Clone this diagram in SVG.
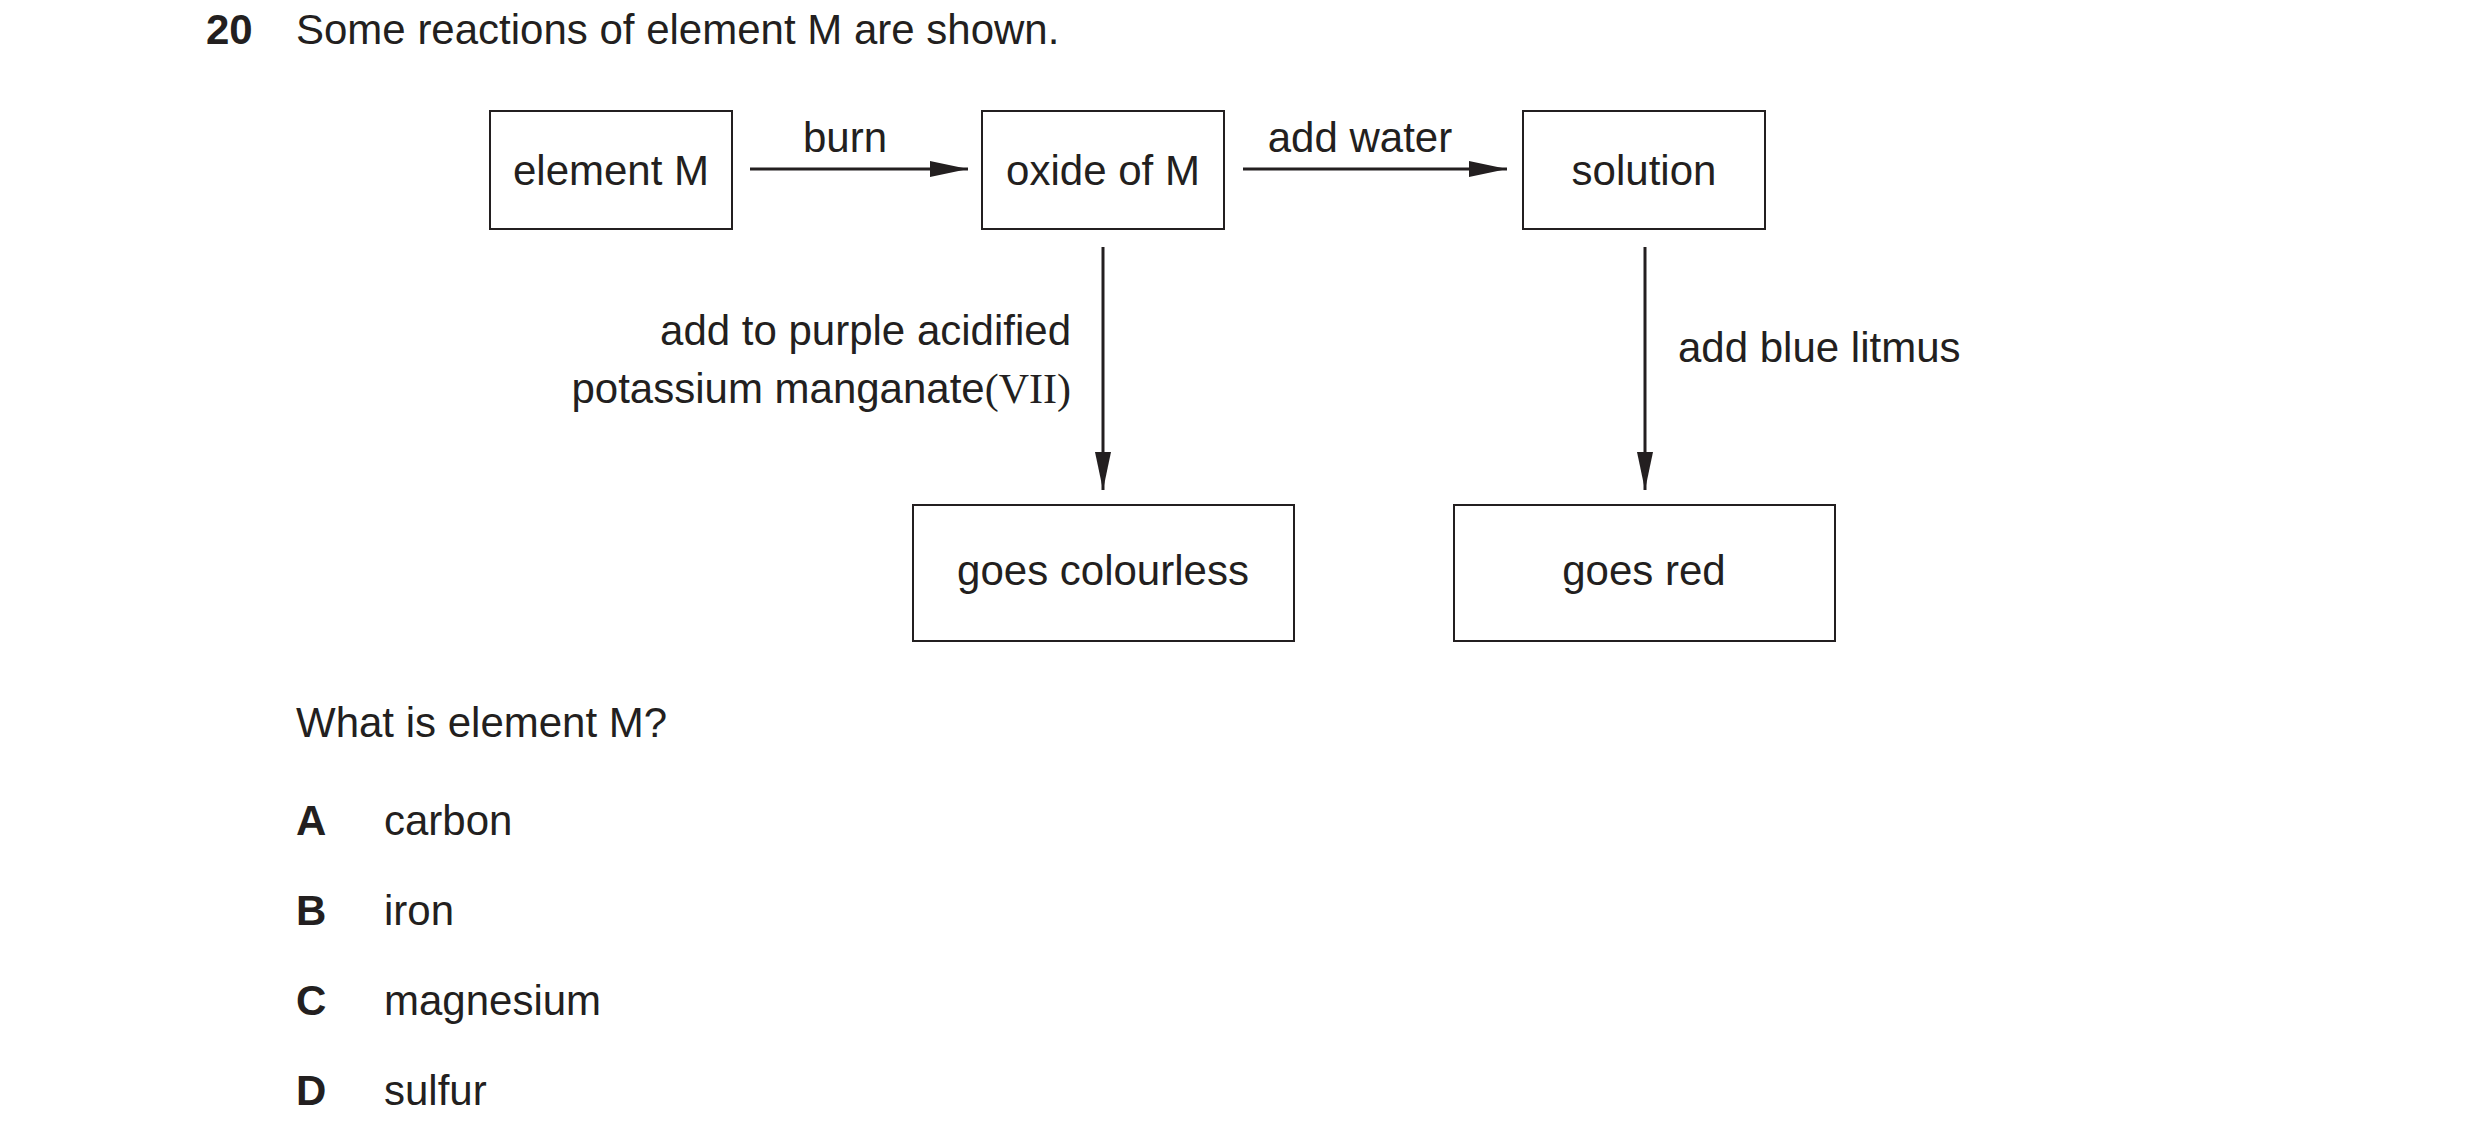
<svg xmlns="http://www.w3.org/2000/svg" width="2480" height="1147" viewBox="0 0 2480 1147">
<style>
text{font-family:"Liberation Sans",Arial,sans-serif;font-size:42px;fill:#231f20}
.c{text-anchor:middle}.b{font-weight:bold}
.box{fill:none;stroke:#231f20;stroke-width:2}
.ln{stroke:#231f20;stroke-width:3;fill:none}
</style>
<defs><marker id="ah" markerWidth="12" markerHeight="8" refX="12" refY="4" orient="auto" markerUnits="userSpaceOnUse"><path d="M0,0 L0,0 L12,4 L0,8z" fill="#231f20" transform="scale(1)"/></marker>
<marker id="a2" viewBox="0 0 38 16" markerWidth="38" markerHeight="16" refX="38" refY="8" orient="auto" markerUnits="userSpaceOnUse"><path d="M0,0 L38,8 L0,16z" fill="#231f20"/></marker></defs>
<rect width="2480" height="1147" fill="#fff"/>
<text x="206" y="44" class="b">20</text>
<text x="296" y="44">Some reactions of element M are shown.</text>
<g id="elementM"><rect class="box" x="490" y="111" width="242" height="118"/><text class="c" x="611" y="185">element M</text></g>
<g id="oxide"><rect class="box" x="982" y="111" width="242" height="118"/><text class="c" x="1103" y="185">oxide of M</text></g>
<g id="solution"><rect class="box" x="1523" y="111" width="242" height="118"/><text class="c" x="1644" y="185">solution</text></g>
<g id="colourless"><rect class="box" x="913" y="505" width="381" height="136"/><text class="c" x="1103" y="585">goes colourless</text></g>
<g id="red"><rect class="box" x="1454" y="505" width="381" height="136"/><text class="c" x="1644" y="585">goes red</text></g>
<g id="connectors">
<line class="ln" x1="750" y1="169" x2="968" y2="169" marker-end="url(#a2)"/>
<line class="ln" x1="1243" y1="169" x2="1507" y2="169" marker-end="url(#a2)"/>
<line class="ln" x1="1103" y1="247" x2="1103" y2="490" marker-end="url(#a2)"/>
<line class="ln" x1="1645" y1="247" x2="1645" y2="490" marker-end="url(#a2)"/>
<text class="c" x="845" y="152">burn</text>
<text class="c" x="1360" y="152">add water</text>
<text x="1071" y="345" text-anchor="end">add to purple acidified</text>
<text x="1071" y="403" text-anchor="end">potassium manganate<tspan font-family="'Liberation Serif',serif">(VII)</tspan></text>
<text x="1678" y="362">add blue litmus</text>
</g>
<text x="296" y="737">What is element M?</text>
<text x="296" y="835" class="b">A</text><text x="384" y="835">carbon</text>
<text x="296" y="925" class="b">B</text><text x="384" y="925">iron</text>
<text x="296" y="1015" class="b">C</text><text x="384" y="1015">magnesium</text>
<text x="296" y="1105" class="b">D</text><text x="384" y="1105">sulfur</text>
</svg>
